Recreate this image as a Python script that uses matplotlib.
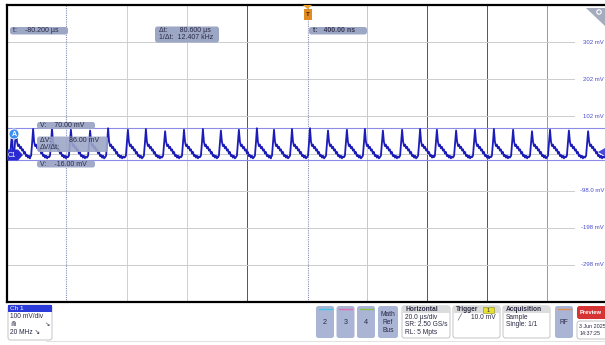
import matplotlib.pyplot as plt
from matplotlib.patches import FancyBboxPatch, Polygon, Circle, Rectangle

plt.rcParams['font.family'] = ['Liberation Sans', 'DejaVu Sans']

# Ch1 trace, 20 us/div, 100 mV/div
peak_times = [-98.3, -97.0, -91.3, -85.0, -78.7, -72.3, -66.3, -59.7, -53.7, -47.3,
              -41.0, -34.7, -28.7, -22.7, -16.7, -11.0, -5.0, 1.0, 7.0, 13.3,
              19.3, 25.3, 31.7, 37.7, 43.3, 49.7, 56.0, 62.3, 68.7, 75.0,
              81.0, 87.3, 93.7]
peak_mv = [58, 66, 68, 70, 66, 64, 70, 66, 68, 62, 66, 68, 64, 66, 70, 66, 68,
           70, 64, 66, 68, 64, 66, 68, 66, 64, 66, 68, 66, 62, 66, 64, 62]
# one pulse, mV at offsets (us) from its peak; None = the peak itself
pulse_offsets = [-1.0, -0.67, -0.33, 0.0, 0.33, 0.67, 1.0, 1.33, 1.67, 2.0, 2.33,
                 2.67, 3.0, 3.33, 3.67, 4.0, 4.33, 4.67, 5.0, 5.33, 5.67]
pulse_shape = [-8, -4, 30, None, 34, 22, 26, 16, 20, 10, 13, 2, 6, -5, -2, -9,
               -4, -11, -6, -9, -5]

cursor_t = [-80.2, 0.4]
cursor_v = [70.0, -16.0]
level_values = [302, 202, 102, -98, -198, -298]
level_labels = ['302 mV', '202 mV', '102 mV', '-98.0 mV', '-198 mV', '-298 mV']

# build the trace
t, v = [-100.0], [-6.0]
for i, (tp, hp) in enumerate(zip(peak_times, peak_mv)):
    stop = peak_times[i + 1] + pulse_offsets[0] if i + 1 < len(peak_times) else 100.0
    for off, val in zip(pulse_offsets, pulse_shape):
        if tp + off < stop and tp + off > t[-1]:
            t.append(tp + off)
            v.append(hp if val is None else val)

W, H = 605, 345
fig = plt.figure(figsize=(W / 100, H / 100), dpi=100)
fig.patch.set_facecolor('white')

# scope graticule: x 7..607 px, y 5..302 px
ax = fig.add_axes([7 / W, (H - 302) / H, 600 / W, 297 / H])
ax.set_xlim(-100, 100)
ax.set_ylim(-398, 402)
ax.set_xticks([])
ax.set_yticks([])
for s in ['left', 'top', 'bottom']:
    ax.spines[s].set_linewidth(1.6)
    ax.spines[s].set_color('black')
ax.spines['right'].set_visible(False)

grid_cols = {-60: '#d0d0d0', -40: '#d0d0d0', -20: '#555555', 20: '#c8c8c8',
             40: '#555555', 60: '#555555', 80: '#999999'}
for x, c in grid_cols.items():
    ax.axvline(x, color=c, lw=0.7, zorder=1)
for y in [302, 202, 102, 2, -98, -198, -298]:
    ax.plot([-100, 89], [y, y], color='#cccccc', lw=0.7, zorder=1)

for ct in cursor_t:
    ax.axvline(ct, color='#8a90b8', lw=0.8, ls=(0, (1, 1)), zorder=2)
for cv in cursor_v:
    ax.axhline(cv, color='#8c8ce8', lw=0.8, zorder=2)

ax.plot(t, v, color='#1c1cb8', lw=1.3, zorder=3)

for val, lab in zip(level_values, level_labels):
    ax.text(99, val, lab, color='#4a4ad0', fontsize=4.3, va='center', ha='right',
            clip_on=False, zorder=4)

# overlay in pixel coordinates
ui = fig.add_axes([0, 0, 1, 1], zorder=5)
ui.set_xlim(0, W)
ui.set_ylim(H, 0)
ui.axis('off')
ui.patch.set_alpha(0)

def rbox(x, y, w, h, fc, ec='none', r=2.5, alpha=1.0, lw=0.6):
    ui.add_patch(FancyBboxPatch((x, y), w, h, boxstyle=f'round,pad=0,rounding_size={r}',
                                fc=fc, ec=ec, lw=lw, alpha=alpha))

def txt(x, y, s, size=5.0, color='#2a2a44', **kw):
    ui.text(x, y, s, fontsize=size, color=color, va='center', **kw)

ro = '#9ca7c6'
rbox(10, 27, 58, 7.5, ro)
txt(13, 30.8, 't:    -80.200 µs')
rbox(155, 26.5, 64, 16, ro)
txt(159, 30.6, 'Δt:      80.600 µs')
txt(159, 37.6, '1/Δt:  12.407 kHz')
rbox(309, 27, 58, 7.5, ro)
txt(313, 30.8, 't:   400.00 ns', weight='bold', color='#3a3a55')

rbox(37, 122, 58, 7, ro, alpha=0.95)
txt(40, 125.6, 'V:    70.00 mV')
rbox(37, 136.5, 71, 15.5, ro, alpha=0.9)
txt(40, 140.8, 'ΔV:         86.00 mV')
txt(40, 147.6, 'ΔV/Δt:')
rbox(37, 160.5, 58, 7, ro, alpha=0.95)
txt(40, 164.1, 'V:    -16.00 mV')

# trigger marker at top
ui.add_patch(Polygon([(303, 5), (312, 5), (307.5, 9)], closed=True, fc='#f0a020', ec='none'))
ui.add_patch(Rectangle((303.5, 8.5), 8, 11, fc='#e08a20', ec='none'))
txt(307.5, 14, 'T', size=4.5, color='#3a2000', ha='center', weight='bold')
# zoom icon top right
ui.add_patch(Polygon([(586, 8), (605, 8), (605, 26)], closed=True, fc='#a4abbd', ec='none'))
ui.add_patch(Circle((599, 12), 2.2, fc='none', ec='white', lw=0.8))

# channel markers
ui.add_patch(Circle((14, 134), 5, fc='#3d8ff0', ec='white', lw=0.6))
txt(14, 134.3, 'A', size=5, color='white', ha='center', weight='bold')
ui.add_patch(Polygon([(7, 149.5), (18, 149.5), (23, 155), (18, 160.5), (7, 160.5)],
                     closed=True, fc='#2a2ad2', ec='none'))
txt(12, 155.2, 'C1', size=4.8, color='white', ha='center')
ui.add_patch(Polygon([(598, 152), (605, 148), (605, 156)], closed=True, fc='#4a4ad8', ec='none'))

# bottom bar
ui.plot([46, 605], [340.5, 340.5], color='#dddddd', lw=0.6)
rbox(8, 305, 44, 35, 'white', ec='#bbbbbb')
ui.add_patch(Rectangle((8.3, 305.3), 43.4, 6.5, fc='#2b3bd9', ec='none'))
txt(10, 308.6, 'Ch 1', size=4.6, color='white')
txt(10, 316.5, '100 mV/div', size=4.8)
txt(10, 324.5, '⋒', size=4.8)
txt(44, 324.5, '↘', size=4.5)
txt(10, 332.5, '20 MHz ↘', size=4.8)

btn = '#aab5d6'
for x0, lab, c in [(316, '2', '#40c8e8'), (336.5, '3', '#e46cb0'), (357, '4', '#90c040')]:
    rbox(x0, 306, 18, 32, btn)
    ui.plot([x0 + 2.5, x0 + 15.5], [309, 309], color=c, lw=1.0)
    txt(x0 + 9, 323, lab, size=5.2, ha='center')
rbox(378, 306, 20, 32, btn)
for yy, lab in [(314, 'Math'), (322, 'Ref'), (330, 'Bus')]:
    txt(388, yy, lab, size=4.8, ha='center')

for x0, w in [(402, 48), (453, 47), (503, 47)]:
    rbox(x0, 306, w, 32, 'white', ec='#bbbbbb')
    ui.add_patch(Rectangle((x0 + 0.5, 306.4), w - 1, 6.8, fc='#dcdcdc', ec='none'))
txt(405, 309.8, 'Horizontal', size=4.8, weight='bold')
txt(405, 317.5, '20.0 µs/div', size=4.8)
txt(405, 325, 'SR: 2.50 GS/s', size=4.8)
txt(405, 332.5, 'RL: 5 Mpts', size=4.8)
txt(456, 309.8, 'Trigger', size=4.8, weight='bold')
ui.add_patch(Rectangle((483, 307.2), 11, 5.5, fc='#e8e030', ec='#888820', lw=0.4))
txt(488.5, 310, '1', size=4, ha='center')
txt(457, 317.5, '╱', size=4.5, family='DejaVu Sans')
txt(471, 317.5, '10.0 mV', size=4.8)
txt(506, 309.8, 'Acquisition', size=4.8, weight='bold')
txt(506, 317.5, 'Sample', size=4.8)
txt(506, 325, 'Single: 1/1', size=4.8)

rbox(555, 306, 18, 32, btn)
ui.plot([557.5, 570.5], [309, 309], color='#e8904a', lw=1.0)
txt(564, 323, 'RF', size=4.8, ha='center')

rbox(577, 306, 40, 13, '#d63434')
txt(579.5, 312.5, 'Preview', size=4.2, color='white', weight='bold')
rbox(577, 321, 40, 18, 'white', ec='#bbbbbb')
txt(579, 326.5, '3 Jun 2025', size=3.9)
txt(580, 333.5, '14:37:25', size=3.9)

fig.savefig('out.png', dpi=100)
